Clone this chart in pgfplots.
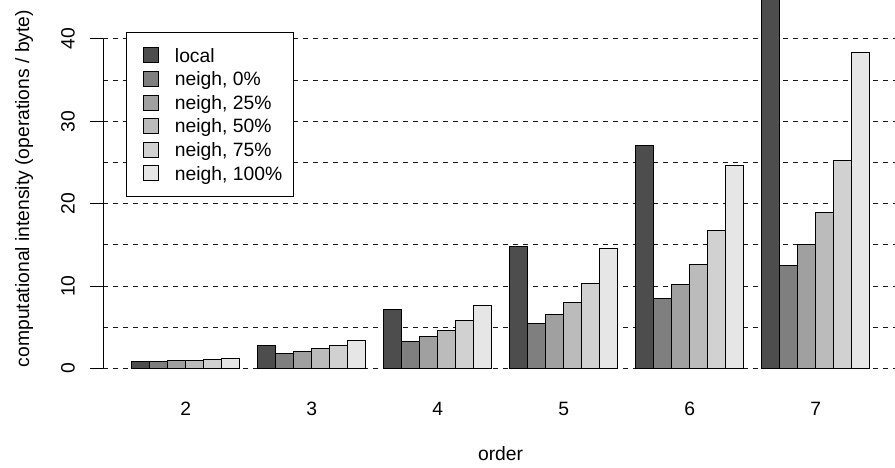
\documentclass[border=0pt]{standalone}
\usepackage{fontspec}
\setmainfont{Liberation Sans}
\usepackage{pgfplots}
\pgfplotsset{compat=1.18}
\definecolor{c0}{HTML}{4D4D4D}
\definecolor{c1}{HTML}{7F7F7F}
\definecolor{c2}{HTML}{A0A0A0}
\definecolor{c3}{HTML}{BBBBBB}
\definecolor{c4}{HTML}{D1D1D1}
\definecolor{c5}{HTML}{E6E6E6}
\pgfplotsset{mybar/.style={ybar, bar width=1, bar shift=0pt, fill=#1, draw=black, line width=1pt,
  legend image code/.code={\path[draw=none, fill=none] (-6pt,-1pt) rectangle (15pt,1pt); \draw[fill=#1, draw=black, line width=1pt] (0pt,-7.8pt) rectangle (15pt,7.2pt);}}}
\begin{document}
\begin{tikzpicture}[font=\fontsize{19.3}{23}\selectfont]
\path[use as bounding box] (0,0) rectangle (895pt,468pt);
\begin{axis}[
  at={(103pt,99.5pt)}, anchor=south west,
  scale only axis, width=792pt, height=368.5pt,
  xmin=-0.594, xmax=43.406, ymin=0, ymax=44.73,
  axis line style={draw=none},
  /pgf/number format/assume math mode=true,
  ytick={0,10,20,30,40}, minor ytick={5,15,25,35},
  ymajorgrids, yminorgrids,
  major grid style={black!90, line width=1pt, dash pattern=on 5pt off 5pt},
  minor grid style={black!90, line width=1pt, dash pattern=on 5pt off 5pt},
  minor tick length=0pt,
  tick align=outside, major tick length=13pt,
  ytick style={black, line width=1pt},
  ytick pos=left,
  yticklabel style={rotate=90, anchor=south, inner sep=0pt},
  yticklabel shift=15pt,
  xtick={4,11,18,25,32,39}, xticklabels={2,3,4,5,6,7},
  x tick style={draw=none}, xticklabel pos=lower,
  xticklabel style={anchor=base, inner sep=0pt},
  xticklabel shift=34pt,
  xlabel={order}, ylabel={computational intensity (operations / byte)},
  xlabel style={at={(axis description cs:0.502,-0.251)}, anchor=base, inner sep=0pt},
  ylabel style={at={(axis description cs:-0.0934,0.4885)}, anchor=base, inner sep=0pt},
  legend cell align=left,
  legend style={at={(axis description cs:0.029,0.914)}, anchor=north west,
    draw=black, line width=1pt, fill=white, inner xsep=11pt, inner ysep=14pt,
    row sep=5.6pt, nodes={inner sep=0pt, text height=16pt, text depth=2pt},
    /tikz/every odd column/.append style={column sep=16pt}},
]
\addplot[mybar=c0] coordinates {(1.5,0.89) (8.5,2.83) (15.5,7.12) (22.5,14.85) (29.5,27.07) (36.5,48)};
\addplot[mybar=c1] coordinates {(2.5,0.85) (9.5,1.86) (16.5,3.32) (23.5,5.50) (30.5,8.50) (37.5,12.51)};
\addplot[mybar=c2] coordinates {(3.5,0.93) (10.5,2.10) (17.5,3.89) (24.5,6.56) (31.5,10.20) (38.5,15.05)};
\addplot[mybar=c3] coordinates {(4.5,1.01) (11.5,2.43) (18.5,4.66) (25.5,8.01) (32.5,12.67) (39.5,18.90)};
\addplot[mybar=c4] coordinates {(5.5,1.13) (12.5,2.83) (19.5,5.83) (26.5,10.32) (33.5,16.75) (40.5,25.29)};
\addplot[mybar=c5] coordinates {(6.5,1.26) (13.5,3.44) (20.5,7.69) (27.5,14.57) (34.5,24.65) (41.5,38.32)};
\legend{local, {neigh, 0\%}, {neigh, 25\%}, {neigh, 50\%}, {neigh, 75\%}, {neigh, 100\%}}
\coordinate (ya) at (axis cs:-0.594,0);
\coordinate (yb) at (axis cs:-0.594,40);
\end{axis}
\draw[line width=1pt, black] (ya) -- (yb);
\end{tikzpicture}
\end{document}
